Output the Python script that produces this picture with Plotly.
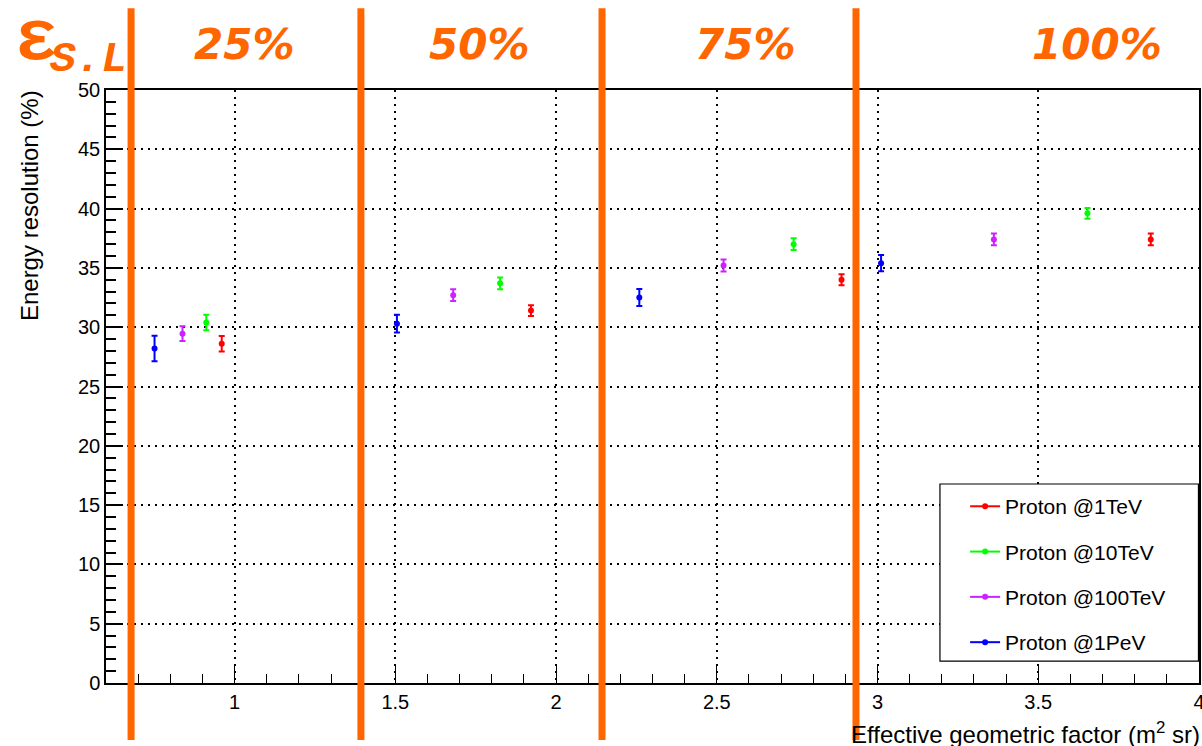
import plotly.graph_objects as go

# ---- data ----
series_names = ["Proton @1TeV", "Proton @10TeV", "Proton @100TeV", "Proton @1PeV"]
series_colors = ["#FF0000", "#00FF00", "#CC22FF", "#0000FF"]

x_1tev = [0.960, 1.922, 2.888, 3.850]
y_1tev = [28.6, 31.4, 34.0, 37.4]
e_1tev = [0.65, 0.45, 0.46, 0.5]

x_10tev = [0.912, 1.826, 2.739, 3.653]
y_10tev = [30.4, 33.7, 37.0, 39.6]
e_10tev = [0.66, 0.5, 0.5, 0.46]

x_100tev = [0.838, 1.680, 2.521, 3.362]
y_100tev = [29.45, 32.7, 35.2, 37.4]
e_100tev = [0.62, 0.5, 0.5, 0.5]

x_1pev = [0.751, 1.505, 2.259, 3.011]
y_1pev = [28.2, 30.3, 32.5, 35.4]
e_1pev = [1.07, 0.75, 0.72, 0.69]

# efficiency separators (x in data units) and labels
sep_x = [0.678, 1.393, 2.143, 2.933]
eff_labels = ["25%", "50%", "75%", "100%"]
eff_label_x = [0.127, 0.342, 0.5855, 0.9067]   # paper fraction

x_range = [0.6, 4.0]
y_range = [0, 50]

xs = [x_1tev, x_10tev, x_100tev, x_1pev]
ys = [y_1tev, y_10tev, y_100tev, y_1pev]
es = [e_1tev, e_10tev, e_100tev, e_1pev]

fig = go.Figure()
for name, col, x, y, e in zip(series_names, series_colors, xs, ys, es):
    fig.add_trace(go.Scatter(
        x=x, y=y, mode="markers", name=name, legendgroup=name,
        marker=dict(color=col, size=6),
        error_y=dict(type="data", array=e, visible=True, color=col, thickness=2, width=3),
        showlegend=False,
    ))
    # legend proxy with line+marker like ROOT "lp"
    fig.add_trace(go.Scatter(
        x=[None], y=[None], mode="lines+markers", name=name, legendgroup=name,
        line=dict(color=col, width=2), marker=dict(color=col, size=6),
        showlegend=True,
    ))

font_tick = dict(family="Liberation Sans, Arial, sans-serif", size=20, color="black")
font_title = dict(family="Liberation Sans, Arial, sans-serif", size=24, color="black")

fig.update_xaxes(
    range=x_range, tickmode="array", tickvals=[1, 1.5, 2, 2.5, 3, 3.5, 4],
    ticktext=["1", "1.5", "2", "2.5", "3", "3.5", "4"],
    ticks="inside", ticklen=18, tickwidth=1.2, tickcolor="black",
    minor=dict(dtick=0.1, tick0=0.6, ticks="inside", ticklen=9, tickcolor="black", showgrid=False),
    showline=True, linecolor="black", linewidth=1.5, mirror=True,
    showgrid=True, gridcolor="black", gridwidth=1.5, griddash="2px,5px",
    zeroline=False, tickfont=font_tick, ticklabeloverflow="allow", automargin=False,
)
fig.update_yaxes(
    range=y_range, dtick=5, tick0=0,
    ticks="inside", ticklen=17, tickwidth=1.5, tickcolor="black",
    minor=dict(dtick=1, ticks="inside", ticklen=10, tickcolor="black", showgrid=False),
    showline=True, linecolor="black", linewidth=1.5, mirror=True,
    showgrid=True, gridcolor="black", gridwidth=1.5, griddash="2px,5px",
    zeroline=False, tickfont=font_tick, ticklabeloverflow="allow", automargin=False,
)

shapes = []
# legend frame (ROOT TLegend box)
shapes.append(dict(type="rect", xref="paper", yref="paper", x0=0.763, x1=0.9995,
                   y0=0.037, y1=0.3356, line=dict(color="black", width=1.2),
                   fillcolor="white", layer="above"))
for sx in sep_x:
    px = (sx - x_range[0]) / (x_range[1] - x_range[0])
    shapes.append(dict(type="line", xref="paper", yref="paper", x0=px, x1=px,
                       y0=-0.096, y1=1.138, line=dict(color="#FF6600", width=7), layer="above"))

annotations = []
for lab, lx in zip(eff_labels, eff_label_x):
    annotations.append(dict(text=lab, xref="paper", yref="paper", x=lx, y=1.076,
                            xanchor="center", yanchor="middle", showarrow=False,
                            font=dict(family="DejaVu Sans", size=42, color="#FF6600",
                                      weight="bold", style="italic")))
annotations.append(dict(text="ε", xref="paper", yref="paper", x=-0.064, y=1.085,
                        xanchor="center", yanchor="middle", showarrow=False,
                        font=dict(family="Liberation Mono", size=72, color="#FF6600", weight="bold")))
annotations.append(dict(text="S.L", xref="paper", yref="paper", x=-0.0156, y=1.052,
                        xanchor="center", yanchor="middle", showarrow=False,
                        font=dict(family="Liberation Mono", size=43, color="#FF6600",
                                  weight="bold", style="italic")))
annotations.append(dict(text="Energy resolution (%)", xref="paper", yref="paper",
                        x=-0.0705, y=1.004, xanchor="center", yanchor="top", textangle=-90,
                        showarrow=False, font=font_title))
annotations.append(dict(text="Effective geometric factor (m<sup>2</sup> sr)", xref="paper", yref="paper",
                        x=1.003, y=-0.084, xanchor="right", yanchor="middle",
                        showarrow=False, font=font_title))

fig.update_layout(
    width=1202, height=746,
    margin=dict(l=106, r=3, t=90, b=63),
    paper_bgcolor="white", plot_bgcolor="white",
    shapes=shapes, annotations=annotations,
    legend=dict(x=0.786, y=0.332, xanchor="left", yanchor="top",
                borderwidth=0, bgcolor="rgba(0,0,0,0)",
                font=dict(family="Liberation Sans, Arial, sans-serif", size=21, color="black"),
                tracegroupgap=15),
)

fig.write_html("out.html", config={"displayModeBar": False},
               post_script="document.body.style.margin='0';document.body.style.overflow='hidden';")
